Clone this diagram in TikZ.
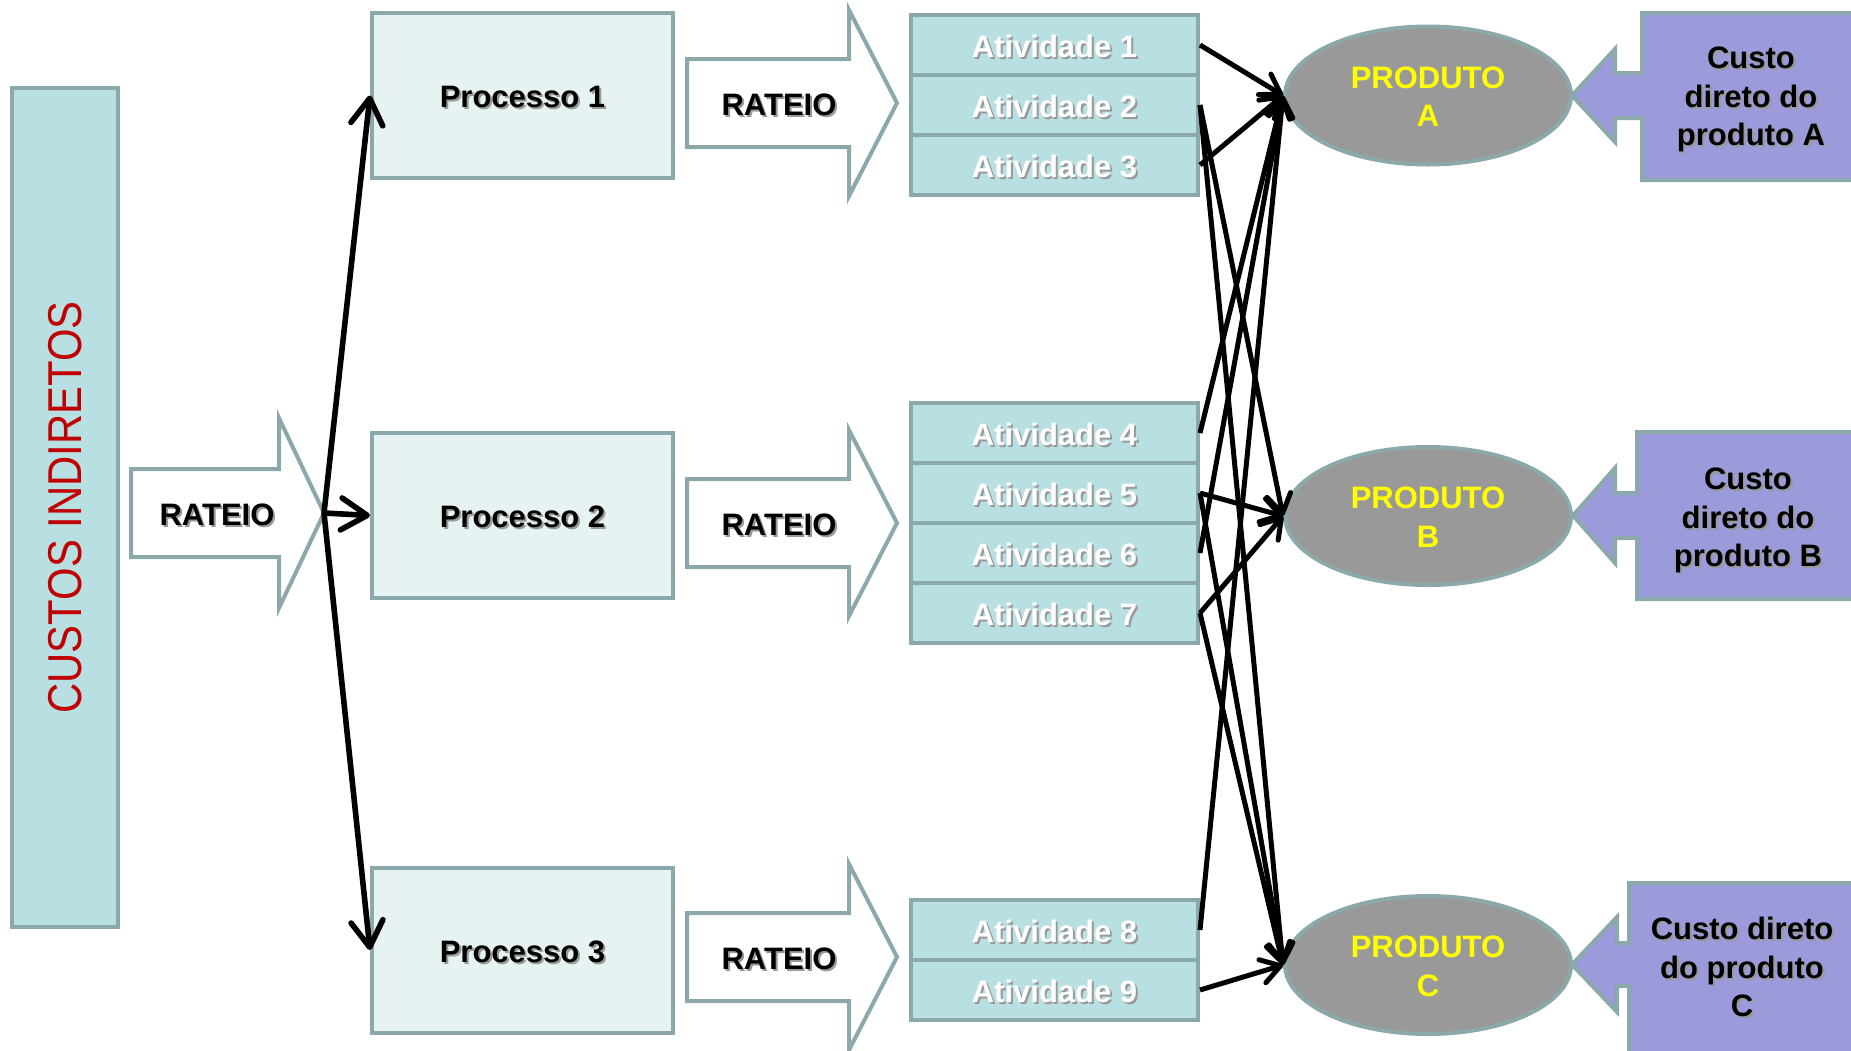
\documentclass[tikz,border=0pt]{standalone}
\usepackage{fontspec}
\setmainfont{Liberation Sans}
\usepackage{graphicx}
\usetikzlibrary{arrows.meta,shapes.geometric}

\definecolor{edgeteal}{HTML}{8BA8AA}
\definecolor{tealfill}{HTML}{B8DFE2}
\definecolor{procfill}{HTML}{E7F3F3}
\definecolor{prodgray}{HTML}{999999}
\definecolor{lilac}{HTML}{9B9BDC}
\definecolor{costred}{HTML}{C00000}
\definecolor{prodyellow}{HTML}{FFFF00}

% text with a soft offset shadow behind it, set slightly low in its box
\newcommand{\txtshadow}[2]{\leavevmode\raisebox{-1.2pt}[\height][\depth]{%
  \rlap{\hspace{1pt}\raisebox{-1pt}{\textcolor{black!40}{#2}}}\textcolor{#1}{#2}}}

\begin{document}
\begin{tikzpicture}[x=0.5pt,y=-0.5pt,
  every node/.style={font=\fontsize{15.5pt}{19.25pt}\selectfont\bfseries, inner sep=0pt},
  tealline/.style={draw=edgeteal, line width=2pt},
  custobox/.style={tealline, fill=tealfill, minimum width=419.5pt, minimum height=53pt},
  procbox/.style={tealline, fill=procfill, minimum width=150.5pt, minimum height=82.5pt},
  actbox/.style={tealline, fill=tealfill, minimum width=143.5pt, minimum height=30pt},
  prodell/.style={tealline, fill=prodgray, ellipse, minimum width=143pt, minimum height=69pt, align=center},
  arrowshape/.style={tealline, fill=white, line join=miter},
  callout/.style={tealline, fill=lilac, line join=miter},
  flow/.style={line width=2.8pt, -{Straight Barb[length=13pt,width=16pt,round]}},
  link/.style={line width=2.5pt, -{Straight Barb[length=9.5pt,width=12pt,round]}},
]
\useasboundingbox (0,0) rectangle (1851,1050);
\clip (0,0) rectangle (1851,1050);

% indirect costs column
\node[custobox, rotate=90, text=costred,
      font=\fontsize{23.75pt}{28pt}\selectfont] (custos) at (65,507.5)
      {\scalebox{0.88}[1]{CUSTOS INDIRETOS}};

% first allocation arrow
\draw[arrowshape] (131,469) -- (279,469) -- (279,418) -- (324,513) -- (279,608)
                  -- (279,557) -- (131,557) -- cycle;
\node (r1) at (217,513) {\txtshadow{black}{RATEIO}};
\coordinate (r1tip) at (324,513);

% processes
\node[procbox] (p1) at (522.5,95.5) {\txtshadow{black}{Processo 1}};
\node[procbox] (p2) at (522.5,515.5) {\txtshadow{black}{Processo 2}};
\node[procbox] (p3) at (522.5,950) {\txtshadow{black}{Processo 3}};

% allocation arrows towards the activities
\draw[arrowshape] (687,59) -- (849,59) -- (849,10) -- (897,103) -- (849,196)
                  -- (849,147) -- (687,147) -- cycle;
\node (r2) at (779,103) {\txtshadow{black}{RATEIO}};
\draw[arrowshape] (687,479) -- (849,479) -- (849,430) -- (897,523) -- (849,616)
                  -- (849,567) -- (687,567) -- cycle;
\node (r3) at (779,523) {\txtshadow{black}{RATEIO}};
\draw[arrowshape] (687,913) -- (849,913) -- (849,864) -- (897,957) -- (849,1050)
                  -- (849,1001) -- (687,1001) -- cycle;
\node (r4) at (779,957) {\txtshadow{black}{RATEIO}};

% activities
\node[actbox] (a1) at (1054.5,45)  {\txtshadow{white}{Atividade 1}};
\node[actbox] (a2) at (1054.5,105) {\txtshadow{white}{Atividade 2}};
\node[actbox] (a3) at (1054.5,165) {\txtshadow{white}{Atividade 3}};
\node[actbox] (a4) at (1054.5,433) {\txtshadow{white}{Atividade 4}};
\node[actbox] (a5) at (1054.5,493) {\txtshadow{white}{Atividade 5}};
\node[actbox] (a6) at (1054.5,553) {\txtshadow{white}{Atividade 6}};
\node[actbox] (a7) at (1054.5,613) {\txtshadow{white}{Atividade 7}};
\node[actbox] (a8) at (1054.5,930) {\txtshadow{white}{Atividade 8}};
\node[actbox] (a9) at (1054.5,990) {\txtshadow{white}{Atividade 9}};

% products
\node[prodell] (pa) at (1428,95.5) {\txtshadow{prodyellow}{PRODUTO}\\\txtshadow{prodyellow}{A}};
\node[prodell] (pb) at (1428,516)  {\txtshadow{prodyellow}{PRODUTO}\\\txtshadow{prodyellow}{B}};
\node[prodell] (pc) at (1428,965)  {\txtshadow{prodyellow}{PRODUTO}\\\txtshadow{prodyellow}{C}};

% direct cost callouts
\draw[callout] (1860,13) -- (1642,13) -- (1642,73) -- (1615,73) -- (1615,49) -- (1572,95.5)
               -- (1615,142) -- (1615,118) -- (1642,118) -- (1642,180) -- (1860,180) -- cycle;
\node[align=center] (ca) at (1751,98)
  {\txtshadow{black}{Custo}\\\txtshadow{black}{direto do}\\\txtshadow{black}{produto A}};
\draw[callout] (1860,432) -- (1637,432) -- (1637,493) -- (1615,493) -- (1615,468) -- (1573,515.5)
               -- (1615,563) -- (1615,538) -- (1637,538) -- (1637,599) -- (1860,599) -- cycle;
\node[align=center] (cb) at (1748,519)
  {\txtshadow{black}{Custo}\\\txtshadow{black}{direto do}\\\txtshadow{black}{produto B}};
\draw[callout] (1860,883) -- (1629,883) -- (1629,943) -- (1617,943) -- (1617,917) -- (1572,964.5)
               -- (1617,1012) -- (1617,986) -- (1629,986) -- (1629,1060) -- (1860,1060) -- cycle;
\node[align=center] (cc) at (1742,966)
  {\txtshadow{black}{Custo direto}\\\txtshadow{black}{do produto}\\\txtshadow{black}{C}};

% allocation to processes
\draw[flow] (r1tip) -- (p1.west);
\draw[flow] (r1tip) -- (p2.west);
\draw[flow] (r1tip) -- (p3.west);

% activities consumed by products
\foreach \s/\t in {a1/pa, a3/pa, a4/pa, a6/pa, a8/pa,
                   a2/pb, a5/pb, a7/pb,
                   a2/pc, a5/pc, a7/pc, a9/pc}
  \draw[link] (\s.east) -- (\t.west);
\end{tikzpicture}
\end{document}
